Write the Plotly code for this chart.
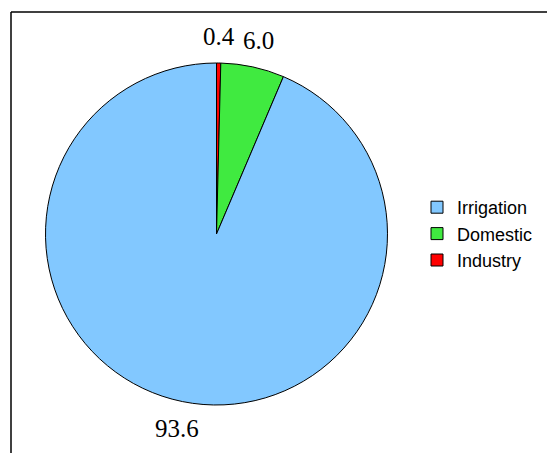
import math
import plotly.graph_objects as go

labels = ["Industry", "Domestic", "Irrigation"]
values = [0.4, 6.0, 93.6]
colors = ["#FF0000", "#40EA40", "#82C8FF"]

W, H = 547, 453
cx, cy, r = 216.5, 234, 171
label_r = 198

fig = go.Figure(go.Pie(
    labels=labels,
    values=values,
    sort=False,
    direction="clockwise",
    rotation=0,
    marker=dict(colors=colors, line=dict(color="black", width=1)),
    textinfo="none",
    hoverinfo="label+value",
    domain=dict(x=[(cx - r) / W, (cx + r) / W], y=[(H - cy - r) / H, (H - cy + r) / H]),
))

# value labels placed outside each slice along its mid-angle
total = sum(values)
annotations = []
cum = 0.0
for v in values:
    mid = (cum + v / 2) / total * 2 * math.pi  # clockwise from 12 o'clock
    cum += v
    px = cx + label_r * math.sin(mid)
    py = cy - label_r * math.cos(mid)
    annotations.append(dict(
        x=px / W, y=1 - py / H, xref="paper", yref="paper",
        text=f"{v:.1f}", showarrow=False, xanchor="center", yanchor="middle",
        font=dict(family="Liberation Serif", size=25, color="black"),
    ))

fig.update_layout(
    width=W, height=H,
    margin=dict(l=0, r=0, t=0, b=0),
    paper_bgcolor="white",
    showlegend=True,
    annotations=annotations,
    legend=dict(
        x=417 / W, y=1 - 189 / H, xanchor="left", yanchor="top",
        traceorder="reversed",
        font=dict(family="Liberation Sans", size=18, color="black"),
        bgcolor="rgba(0,0,0,0)",
    ),
    shapes=[
        dict(type="line", xref="paper", yref="paper", x0=11 / W, x1=1.05, y0=1 - 12 / H, y1=1 - 12 / H,
             line=dict(color="black", width=1.5)),
        dict(type="line", xref="paper", yref="paper", x0=11 / W, x1=11 / W, y0=1 - 12 / H, y1=-0.05,
             line=dict(color="black", width=1.5)),
    ],
)

fig.write_html("out.html")
